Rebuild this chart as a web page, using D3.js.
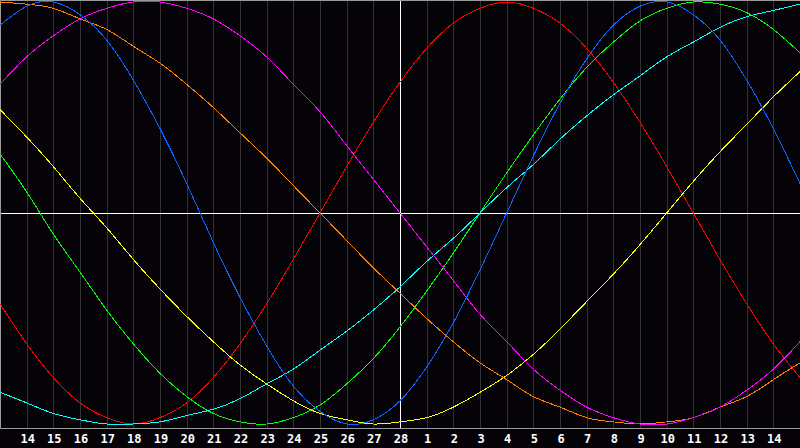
<!DOCTYPE html>
<html>
<head>
<meta charset="utf-8">
<script src="https://cdn.jsdelivr.net/npm/d3@7"></script>
<style>
  html, body { margin: 0; padding: 0; background: #050308; }
  svg { display: block; }
  .grid { stroke: #333333; stroke-width: 1; }
  .frame { stroke: #9a9a9a; stroke-width: 1; fill: none; }
  .today { stroke: #ffffff; stroke-width: 1; }
  .cycle { fill: none; stroke-width: 1; shape-rendering: crispEdges; }
  .day { fill: #ffffff; font-family: "DejaVu Sans Mono", monospace; font-weight: bold; font-size: 12px; }
</style>
</head>
<body>
<div id="chart"></div>
<script>
// days shown (index 0 .. 30), today is index 15
var days = [13, 14, 15, 16, 17, 18, 19, 20, 21, 22, 23, 24, 25, 26, 27, 28,
            1, 2, 3, 4, 5, 6, 7, 8, 9, 10, 11, 12, 13, 14, 15];
var todayIndex = 15;

// cycle values in percent, one per day
var red     = [-43, -62, -78, -90, -97, -100, -97, -90, -78, -62, -43, -22, 0, 22, 43, 62,
               78, 90, 97, 100, 97, 90, 78, 62, 43, 22, 0, -22, -43, -62, -78];
var green   = [28, 10, -10, -28, -46, -62, -76, -87, -95, -99, -100, -97, -91, -81, -69, -54,
               -37, -19, 0, 19, 37, 54, 69, 81, 91, 97, 100, 99, 95, 87, 76];
var blue    = [89, 98, 100, 94, 82, 63, 40, 14, -14, -40, -63, -82, -94, -100, -98, -89,
               -73, -52, -27, 0, 27, 52, 73, 89, 98, 100, 94, 82, 63, 40, 14];
var yellow  = [49, 36, 22, 7, -7, -22, -36, -49, -61, -72, -81, -89, -95, -98, -100, -99,
               -97, -92, -85, -77, -67, -55, -42, -29, -15, 0, 15, 29, 42, 55, 67];
var cyan    = [-85, -90, -95, -98, -100, -100, -99, -96, -93, -88, -81, -74, -65, -56, -46, -35,
               -23, -12, 0, 12, 23, 35, 46, 56, 65, 74, 81, 88, 93, 96, 99];
var magenta = [61, 74, 84, 92, 97, 100, 100, 97, 92, 84, 74, 61, 48, 32, 16, 0,
               -16, -32, -48, -61, -74, -84, -92, -97, -100, -100, -97, -92, -84, -74, -61];
var orange  = [100, 99, 97, 92, 87, 79, 71, 61, 50, 38, 26, 13, 0, -13, -26, -38,
               -50, -61, -71, -79, -87, -92, -97, -99, -100, -99, -97, -92, -87, -79, -71];

var series = [
  { color: '#ff0000', values: red },
  { color: '#00ff00', values: green },
  { color: '#ffff00', values: yellow },
  { color: '#00ffff', values: cyan },
  { color: '#ff8000', values: orange },
  { color: '#ff00ff', values: magenta },
  { color: '#0a64ff', values: blue }
];

var width = 800, height = 448, plotBottom = 428;

var svg = d3.select('#chart').append('svg')
  .attr('width', width)
  .attr('height', height);

var x = d3.scaleLinear().domain([0, days.length - 1]).range([0, width]);
var y = d3.scaleLinear().domain([-100, 100]).range([424, 2]);

svg.append('rect')
  .attr('width', width).attr('height', height)
  .attr('fill', '#050308');

svg.append('clipPath').attr('id', 'plot-clip')
  .append('rect')
  .attr('x', 0).attr('y', 0)
  .attr('width', width).attr('height', plotBottom);

var gridLayer = svg.append('g').attr('class', 'grid-layer');
var curveLayer = svg.append('g').attr('class', 'curve-layer').attr('clip-path', 'url(#plot-clip)');
var labelLayer = svg.append('g').attr('class', 'label-layer');

drawGrid();
drawCycles();
drawLabels();

// functions:

function drawGrid() {
  var inner = d3.range(1, days.length - 1);

  gridLayer.selectAll('line.grid').data(inner)
    .enter().append('line')
    .attr('class', function(d) { return d === todayIndex ? 'today' : 'grid'; })
    .attr('x1', function(d) { return Math.round(x(d)) + 0.5; })
    .attr('x2', function(d) { return Math.round(x(d)) + 0.5; })
    .attr('y1', 0)
    .attr('y2', plotBottom);

  // zero line
  gridLayer.append('line')
    .attr('class', 'today')
    .attr('x1', 0).attr('x2', width)
    .attr('y1', Math.round(y(0)) + 0.5)
    .attr('y2', Math.round(y(0)) + 0.5);

  gridLayer.append('path')
    .attr('class', 'frame')
    .attr('d', 'M' + width + ',0.5H0.5V' + (plotBottom + 0.5) + 'H' + width);
}

function drawCycles() {
  var line = d3.line()
    .x(function(d, i) { return x(i); })
    .y(function(d) { return y(d); })
    .curve(d3.curveNatural);

  curveLayer.selectAll('path.cycle').data(series)
    .enter().append('path')
    .attr('class', 'cycle')
    .attr('stroke', function(d) { return d.color; })
    .attr('d', function(d) { return line(d.values); });
}

function drawLabels() {
  var shown = d3.range(1, days.length - 1);

  labelLayer.selectAll('text.day').data(shown)
    .enter().append('text')
    .attr('class', 'day')
    .attr('x', function(d) { return x(d) + 1; })
    .attr('y', 443)
    .attr('text-anchor', 'middle')
    .text(function(d) { return days[d]; });
}
</script>
</body>
</html>
